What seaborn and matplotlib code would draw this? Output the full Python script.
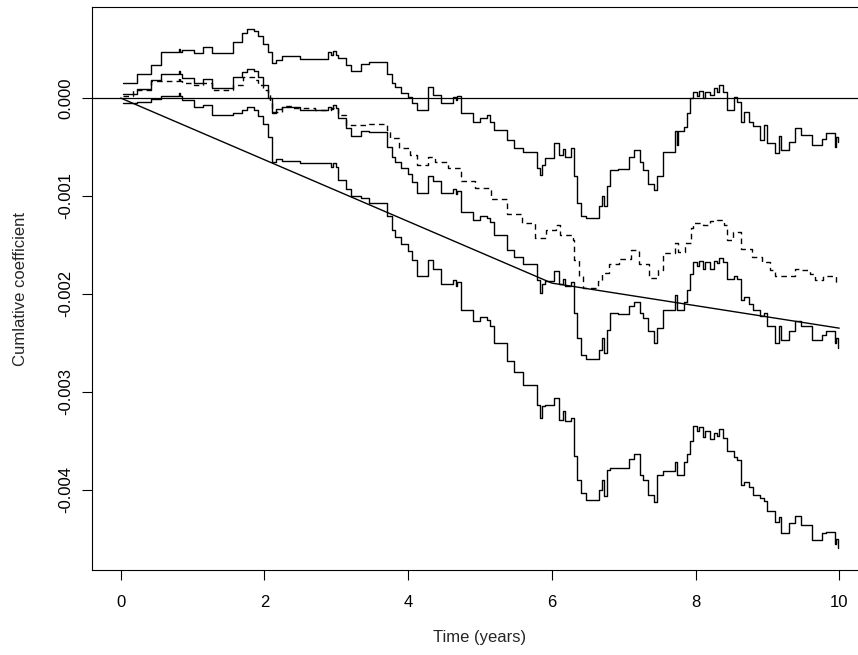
import numpy as np
import pandas as pd
import matplotlib
matplotlib.use("Agg")
import matplotlib.pyplot as plt
import seaborn as sns

# ---- data (values in units of 1e-3) ----
jump_times = [0.03, 0.23, 0.42, 0.56, 0.81, 0.83, 0.85, 1.02, 1.14, 1.27, 1.56, 1.69, 1.76, 1.85,
              1.91, 1.98, 2.05, 2.11, 2.16, 2.25, 2.49, 2.89, 2.93, 2.95, 3.0, 3.02, 3.13, 3.21,
              3.35, 3.45, 3.71, 3.77, 3.82, 3.9, 4.0, 4.05, 4.12, 4.27, 4.34, 4.46, 4.62, 4.66,
              4.68, 4.73, 4.9, 5.0, 5.1, 5.14, 5.2, 5.37, 5.48, 5.6, 5.79, 5.83, 5.86, 5.9, 6.03,
              6.1, 6.15, 6.18, 6.27, 6.31, 6.35, 6.41, 6.48, 6.65, 6.7, 6.72, 6.77, 6.81, 6.92,
              7.08, 7.15, 7.22, 7.27, 7.34, 7.42, 7.47, 7.55, 7.71, 7.74, 7.76, 7.84, 7.88, 7.92,
              7.96, 8.02, 8.05, 8.1, 8.13, 8.2, 8.26, 8.3, 8.33, 8.38, 8.44, 8.53, 8.58, 8.63,
              8.67, 8.75, 8.8, 8.9, 8.95, 9.0, 9.11, 9.16, 9.19, 9.3, 9.38, 9.47, 9.62, 9.76,
              9.82, 9.94, 9.96, 9.98]

upper_band = [0.15, 0.245, 0.337, 0.47, 0.50, 0.47, 0.49, 0.46, 0.52, 0.46, 0.575, 0.66, 0.71, 0.68,
              0.63, 0.557, 0.47, 0.354, 0.388, 0.43, 0.395, 0.47, 0.44, 0.48, 0.44, 0.405, 0.337,
              0.28, 0.35, 0.37, 0.25, 0.15, 0.11, 0.05, 0.01, -0.05, -0.12, 0.115, 0.03, -0.05,
              0.013, -0.02, 0.02, -0.155, -0.24, -0.2, -0.17, -0.24, -0.33, -0.43, -0.51, -0.55,
              -0.71, -0.79, -0.68, -0.61, -0.46, -0.58, -0.52, -0.6, -0.51, -0.8, -1.07, -1.2,
              -1.225, -1.1, -1.0, -1.1, -0.9, -0.735, -0.72, -0.6, -0.53, -0.65, -0.73, -0.88,
              -0.94, -0.8, -0.55, -0.34, -0.48, -0.34, -0.3, -0.15, 0.0, 0.064, 0.02, 0.07, 0.0,
              0.06, 0.03, 0.1, 0.06, 0.13, 0.06, -0.12, 0.01, -0.04, -0.24, -0.14, -0.24, -0.29,
              -0.43, -0.28, -0.46, -0.56, -0.39, -0.53, -0.45, -0.31, -0.38, -0.48, -0.42, -0.36,
              -0.5, -0.4, -0.45]

estimate = [0.04, 0.09, 0.18, 0.25, 0.28, 0.25, 0.2, 0.156, 0.19, 0.1, 0.21, 0.27, 0.30, 0.28,
            0.22, 0.13, 0.0, -0.155, -0.115, -0.09, -0.12, -0.09, -0.11, -0.07, -0.1, -0.2,
            -0.31, -0.39, -0.34, -0.35, -0.5, -0.6, -0.65, -0.71, -0.78, -0.86, -0.97, -0.8,
            -0.85, -0.97, -0.93, -0.98, -0.95, -1.16, -1.245, -1.2, -1.22, -1.27, -1.4, -1.55,
            -1.62, -1.69, -1.86, -1.99, -1.9, -1.87, -1.77, -1.9, -1.85, -1.92, -1.88, -2.2,
            -2.45, -2.62, -2.67, -2.57, -2.45, -2.6, -2.37, -2.2, -2.21, -2.12, -2.08, -2.2,
            -2.25, -2.38, -2.5, -2.35, -2.16, -2.01, -2.16, -2.16, -2.08, -1.96, -1.8, -1.67,
            -1.72, -1.66, -1.75, -1.67, -1.75, -1.66, -1.68, -1.63, -1.67, -1.85, -1.82, -1.85,
            -2.06, -2.03, -2.1, -2.16, -2.23, -2.2, -2.33, -2.5, -2.33, -2.47, -2.38, -2.28,
            -2.33, -2.47, -2.42, -2.38, -2.5, -2.45, -2.55]

lower_band = [-0.054, -0.04, -0.014, 0.02, 0.05, 0.02, -0.02, -0.09, -0.07, -0.17, -0.155, -0.12,
              -0.095, -0.12, -0.18, -0.26, -0.4, -0.65, -0.626, -0.64, -0.667, -0.66, -0.7, -0.66,
              -0.7, -0.84, -0.93, -1.0, -1.02, -1.07, -1.2, -1.35, -1.42, -1.49, -1.56, -1.65,
              -1.82, -1.65, -1.75, -1.9, -1.86, -1.92, -1.88, -2.16, -2.28, -2.24, -2.27, -2.33,
              -2.5, -2.69, -2.8, -2.93, -3.13, -3.27, -3.15, -3.13, -3.06, -3.29, -3.2, -3.3,
              -3.27, -3.66, -3.9, -4.03, -4.1, -4.0, -3.9, -4.06, -3.8, -3.78, -3.78, -3.69,
              -3.64, -3.85, -3.9, -4.05, -4.13, -3.85, -3.81, -3.72, -3.85, -3.85, -3.72, -3.64,
              -3.5, -3.35, -3.4, -3.36, -3.46, -3.4, -3.48, -3.42, -3.45, -3.38, -3.47, -3.6,
              -3.67, -3.7, -3.95, -3.92, -3.97, -4.05, -4.08, -4.12, -4.22, -4.33, -4.28, -4.44,
              -4.34, -4.27, -4.36, -4.51, -4.44, -4.43, -4.55, -4.5, -4.6]

dashed_times = [0.03, 0.17, 0.42, 0.81, 0.83, 0.85, 1.02, 1.14, 1.27, 1.56, 1.7, 1.85, 1.91, 1.98,
                2.05, 2.08, 2.11, 2.25, 2.38, 2.7, 2.92, 3.02, 3.13, 3.45, 3.71, 3.75, 3.87, 4.03,
                4.13, 4.28, 4.38, 4.56, 4.74, 4.93, 5.16, 5.38, 5.58, 5.76, 5.92, 6.06, 6.12,
                6.29, 6.31, 6.38, 6.44, 6.64, 6.7, 6.79, 6.93, 7.1, 7.21, 7.35, 7.48, 7.55, 7.71,
                7.75, 7.86, 7.94, 7.96, 8.1, 8.2, 8.3, 8.4, 8.44, 8.52, 8.63, 8.78, 8.93, 9.03,
                9.11, 9.38, 9.44, 9.59, 9.66, 9.78, 9.96, 9.98]
dashed_estimate = [0.02, 0.08, 0.17, 0.22, 0.17, 0.156, 0.13, 0.156, 0.08, 0.13, 0.22, 0.18, 0.13,
                   0.08, 0.03, -0.05, -0.14, -0.08, -0.1, -0.12, -0.1, -0.17, -0.275, -0.265,
                   -0.33, -0.41, -0.51, -0.58, -0.68, -0.6, -0.65, -0.71, -0.85, -0.92, -1.03,
                   -1.18, -1.28, -1.43, -1.35, -1.3, -1.4, -1.45, -1.65, -1.82, -1.94, -1.87,
                   -1.79, -1.69, -1.64, -1.55, -1.69, -1.84, -1.76, -1.58, -1.48, -1.57, -1.48,
                   -1.33, -1.28, -1.3, -1.26, -1.25, -1.3, -1.45, -1.37, -1.54, -1.62, -1.67,
                   -1.76, -1.82, -1.75, -1.76, -1.8, -1.86, -1.82, -1.89, -1.89]

# piecewise-linear fitted cumulative effect (bend near 6 years)
trend_times = [0.0, 6.0, 10.0]
trend_values = [0.0, -1.89, -2.35]

x_ticks = [0, 2, 4, 6, 8, 10]
x_tick_labels = ["0", "2", "4", "6", "8", "10"]
y_ticks = [0.0, -0.001, -0.002, -0.003, -0.004]
y_tick_labels = ["0.000", "-0.001", "-0.002", "-0.003", "-0.004"]
x_label = "Time (years)"
y_label = "Cumlative coefficient"

UNIT = 1e-3

assert len(jump_times) == len(upper_band) == len(estimate) == len(lower_band)
assert len(dashed_times) == len(dashed_estimate)

# ---- style ----
sns.set_style("ticks")
plt.rcParams["font.family"] = ["Liberation Sans", "DejaVu Sans"]
plt.rcParams["font.size"] = 12

W, H = 858, 655
fig = plt.figure(figsize=(W / 100, H / 100), dpi=100)
ax = fig.add_axes([92 / W, (H - 570) / H, 776 / W, 563 / H])

solid = pd.DataFrame({
    "t": jump_times,
    "upper": np.array(upper_band) * UNIT,
    "est": np.array(estimate) * UNIT,
    "lower": np.array(lower_band) * UNIT,
})
dashed = pd.DataFrame({"t": dashed_times, "v": np.array(dashed_estimate) * UNIT})
trend = pd.DataFrame({"t": trend_times, "v": np.array(trend_values) * UNIT})

ax.axhline(0.0, color="black", linewidth=0.9)
for col in ["upper", "est", "lower"]:
    sns.lineplot(data=solid, x="t", y=col, estimator=None, sort=False,
                 drawstyle="steps-post", color="black", linewidth=1.0, ax=ax)
sns.lineplot(data=dashed, x="t", y="v", estimator=None, sort=False,
             drawstyle="steps-post", color="black", linewidth=1.0,
             linestyle=(0, (4, 3)), ax=ax)
sns.lineplot(data=trend, x="t", y="v", estimator=None, sort=False,
             color="black", linewidth=1.0, ax=ax)

ax.set_xlim(-0.4, 10.4)
ax.set_ylim(-0.00482, 0.00093)

ax.set_xticks(x_ticks, labels=x_tick_labels)
ax.set_yticks(y_ticks, labels=y_tick_labels)
ax.tick_params(axis="both", direction="out", length=7.2, width=0.8, color="black",
               labelsize=12, labelcolor="black")
ax.tick_params(axis="x", pad=11)
ax.tick_params(axis="y", pad=6.5)
for lab in ax.get_yticklabels():
    lab.set_rotation(90)
    lab.set_va("center")

for sp in ax.spines.values():
    sp.set_color("black")
    sp.set_linewidth(0.8)

ax.set_xlabel(x_label, fontsize=12, va="top")
ax.set_ylabel(y_label, fontsize=12, va="center")
ax.xaxis.set_label_coords(0.5, (570 - 630) / 563)
ax.yaxis.set_label_coords((21 - 92) / 776, 0.5)

fig.savefig("out.png", dpi=100, facecolor="white")
